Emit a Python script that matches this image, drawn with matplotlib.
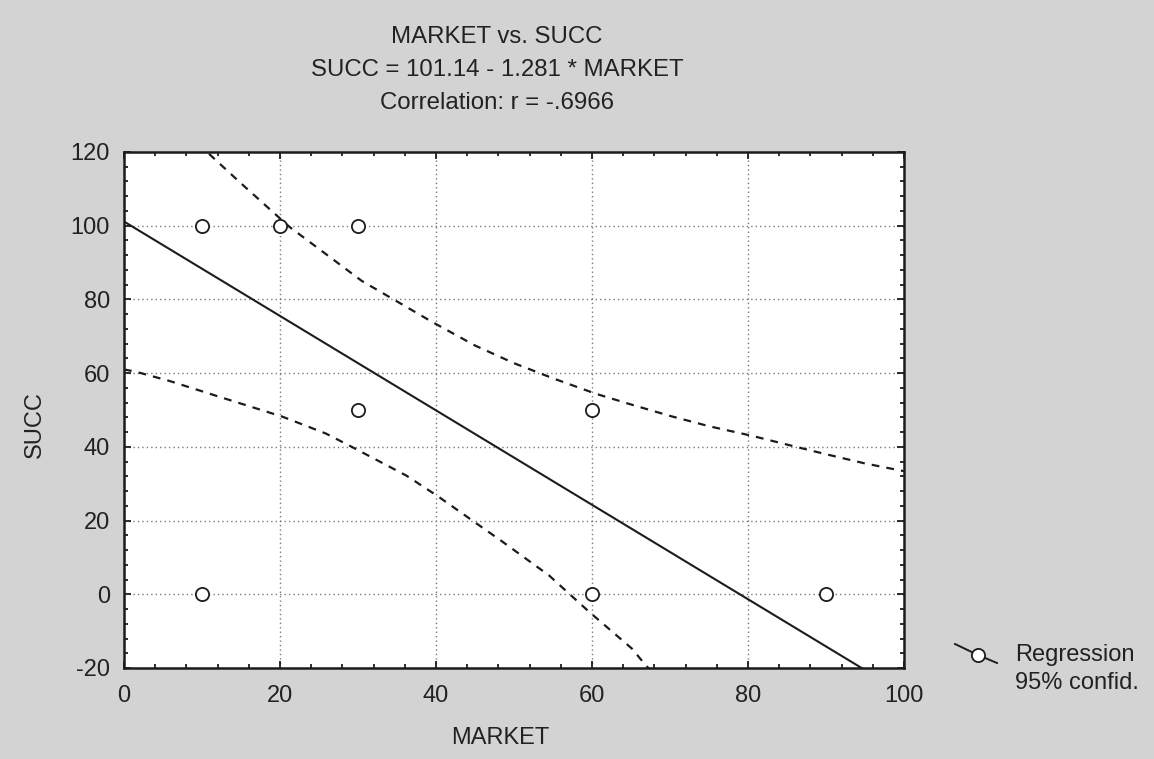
import matplotlib
matplotlib.use("Agg")
import matplotlib.pyplot as plt
import numpy as np
from matplotlib.lines import Line2D
from matplotlib.ticker import MultipleLocator

plt.rcParams['font.family'] = ['Liberation Sans', 'DejaVu Sans']
plt.rcParams['axes.unicode_minus'] = False

# Observations
market = [10, 20, 30, 10, 30, 60, 60, 90]
succ = [100, 100, 100, 0, 50, 50, 0, 0]

# Fitted regression: SUCC = 101.14 - 1.281 * MARKET
intercept = 101.14
slope = -1.281
r_value = -0.6966

# 95% confidence band
upper_x = [10.9, 15.0, 21.2, 25.0, 30.5, 34.4, 39.5, 45.0, 50.0, 55.0,
           60.5, 65.0, 70.0, 75.0, 80.5, 85.6, 90.0, 95.0, 100.0]
upper_y = [119.5, 111.5, 99.7, 93.7, 85.0, 80.2, 73.9, 67.5, 62.7, 58.6,
           54.4, 51.5, 48.4, 45.6, 43.0, 40.3, 38.0, 35.5, 33.4]
lower_x = [0.0, 1.5, 5.8, 12.2, 20.3, 25.9, 29.2, 36.2, 40.1, 48.5,
           54.5, 59.6, 65.1, 66.9, 67.5]
lower_y = [61.0, 60.4, 57.9, 53.6, 48.2, 43.6, 40.0, 32.2, 26.8, 14.3,
           5.1, -4.7, -14.7, -19.3, -20.6]

x_ticks = [0, 20, 40, 60, 80, 100]
y_ticks = [-20, 0, 20, 40, 60, 80, 100, 120]

INK = '#1c1c1c'
W, H = 1154, 759
fig = plt.figure(figsize=(W / 100, H / 100), dpi=100)
fig.patch.set_facecolor('#d3d3d3')

ax = fig.add_axes([124 / W, 1 - 668 / H, (904 - 124) / W, (668 - 152) / H])
ax.set_facecolor('white')
ax.set_xlim(0, 100)
ax.set_ylim(-20, 120)

ax.grid(True, which='major', color='#7a7a7a', linestyle=(0, (1, 2.2)), linewidth=1.0)
ax.set_axisbelow(True)

line_x = np.array([0.0, 100.0])
ax.plot(line_x, intercept + slope * line_x, color=INK, lw=1.5, zorder=3)
ax.plot(upper_x, upper_y, color=INK, lw=1.6, linestyle=(0, (3.5, 3.2)), zorder=3)
ax.plot(lower_x, lower_y, color=INK, lw=1.6, linestyle=(0, (3.5, 3.2)), zorder=3)
ax.plot(market, succ, linestyle='none', marker='o', markersize=9.5,
        markerfacecolor='white', markeredgecolor=INK, markeredgewidth=1.3, zorder=4)

ax.set_xticks(x_ticks)
ax.set_yticks(y_ticks)
ax.xaxis.set_minor_locator(MultipleLocator(4))
ax.yaxis.set_minor_locator(MultipleLocator(4))
ax.tick_params(which='both', direction='in', top=True, right=True, width=1.3, color=INK)
ax.tick_params(which='major', length=5)
ax.tick_params(which='minor', length=3)
ax.tick_params(axis='x', which='major', labelsize=17, pad=12, labelcolor='#222222')
ax.tick_params(axis='y', which='major', labelsize=17, pad=10, labelcolor='#222222')
for s in ax.spines.values():
    s.set_linewidth(1.8)
    s.set_color(INK)

title_lines = ["MARKET vs. SUCC",
               f"SUCC = {intercept:.2f} - {abs(slope):.3f} * MARKET",
               "Correlation: r = -.6966"]
for yy, txt in zip([37, 70, 103], title_lines):
    fig.text(497 / W, 1 - yy / H, txt, ha='center', va='center', fontsize=17.3, color='#222222')

fig.text(500 / W, 1 - 738 / H, "MARKET", ha='center', va='center', fontsize=17, color='#222222')
fig.text(35 / W, 1 - 425 / H, "SUCC", ha='center', va='center', rotation=90,
         fontsize=17, color='#222222')

# Legend
key = Line2D([955 / W, 978 / W, 997 / W], [1 - 644 / H, 1 - 655 / H, 1 - 663 / H],
             transform=fig.transFigure, color=INK, lw=1.4, marker='o', markevery=[1],
             markersize=9.5, markerfacecolor='white', markeredgecolor=INK,
             markeredgewidth=1.3)
fig.add_artist(key)
fig.text(1015 / W, 1 - 655 / H, "Regression", ha='left', va='center', fontsize=17, color='#222222')
fig.text(1015 / W, 1 - 683 / H, "95% confid.", ha='left', va='center', fontsize=17, color='#222222')

fig.savefig("out.png", dpi=100, facecolor=fig.get_facecolor())
